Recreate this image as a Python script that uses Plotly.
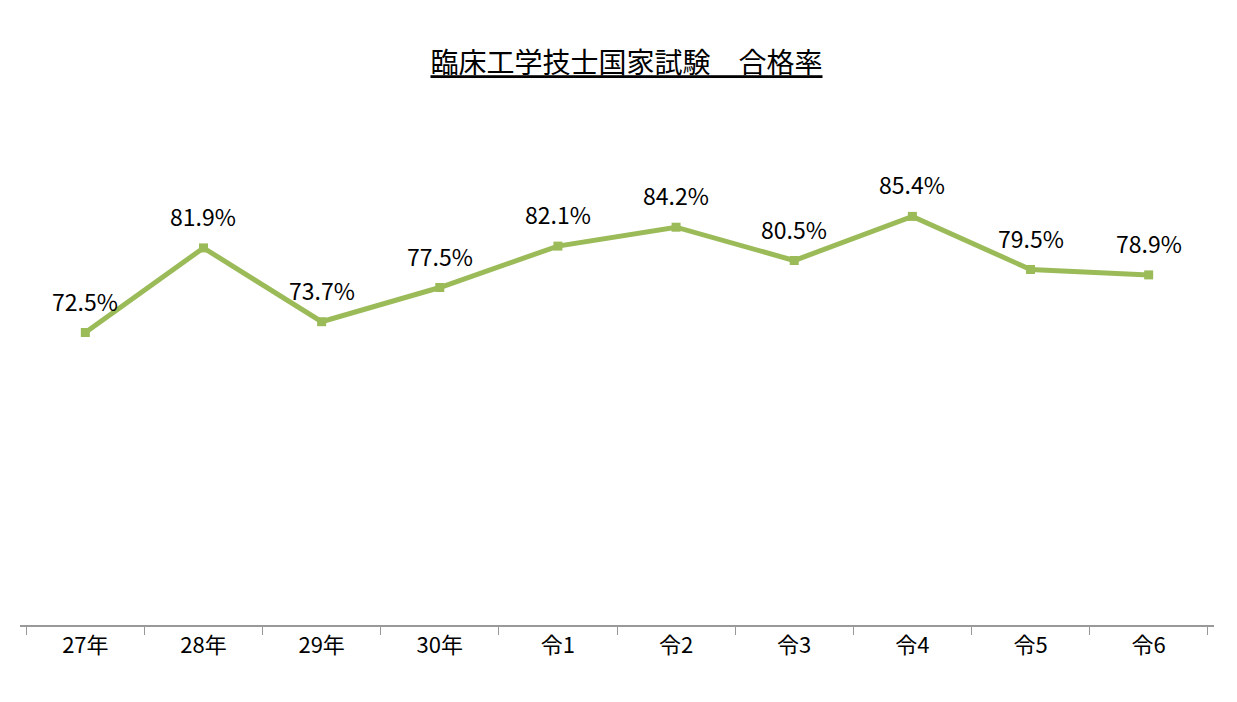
import plotly.graph_objects as go

nendo = ["27年", "28年", "29年", "30年", "令1", "令2", "令3", "令4", "令5", "令6"]
goukakuritsu = [72.5, 81.9, 73.7, 77.5, 82.1, 84.2, 80.5, 85.4, 79.5, 78.9]
etiquetas = [f"{v}%" for v in goukakuritsu]

fuente = "Noto Sans CJK JP"

fig = go.Figure()
fig.add_trace(go.Scatter(
    x=nendo, y=goukakuritsu, mode="lines+markers",
    line=dict(color="#9BBB59", width=5),
    marker=dict(symbol="square", size=9, color="#9BBB59"),
    cliponaxis=False, showlegend=False,
))

# etiquetas de datos encima de cada punto
anotaciones = [dict(x=n, y=v, text=t, showarrow=False, yshift=32,
                    font=dict(size=23, color="black", family=fuente))
               for n, v, t in zip(nendo, goukakuritsu, etiquetas)]

fig.update_layout(
    width=1237, height=702,
    margin=dict(l=12, r=31, t=77, b=85),
    paper_bgcolor="white", plot_bgcolor="white",
    font=dict(family=fuente, color="black"),
    title=dict(text="<u>臨床工学技士国家試験　合格率</u>", x=0.5, y=0.935,
               xanchor="center", font=dict(size=28, family=fuente)),
    annotations=anotaciones,
)
fig.update_xaxes(showline=True, linecolor="#999999", linewidth=1.5,
                 ticks="outside", tickson="boundaries", ticklen=8,
                 tickcolor="#999999", tickfont=dict(size=22), showgrid=False)
fig.update_yaxes(range=[40, 100], visible=False)

fig.write_html("out.html")
